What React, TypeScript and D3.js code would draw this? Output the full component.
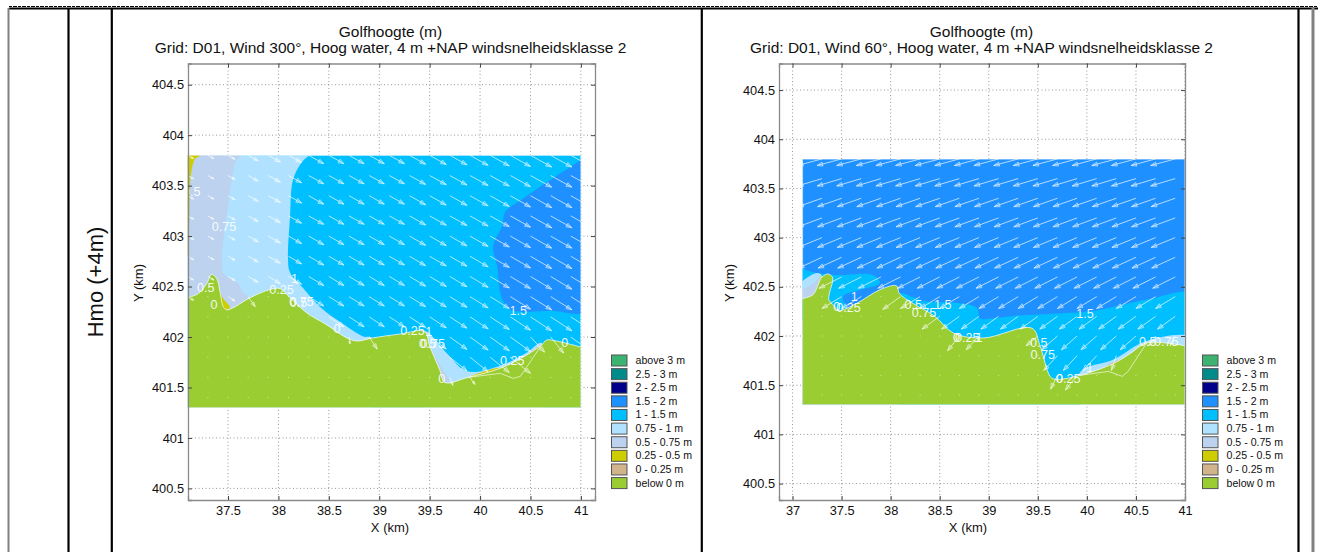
import React, { useEffect, useRef } from 'react';
import * as d3 from 'd3';

type Pt = [number, number];

const FONT = '"Liberation Sans", Arial, sans-serif';

// legend
const legendLabels = ['above 3 m', '2.5 - 3 m', '2 - 2.5 m', '1.5 - 2 m', '1 - 1.5 m', '0.75 - 1 m', '0.5 - 0.75 m', '0.25 - 0.5 m', '0 - 0.25 m', 'below 0 m'];
const legendColors = ['#3CB371', '#008B8B', '#00008B', '#1E90FF', '#00BFFF', '#B0E2FF', '#BCD2EE', '#CDCD00', '#D2B48C', '#9ACD32'];
const [, , , C15, C1, C075, C05, C025, C0, LAND] = legendColors;

const xTickValues = [37.5, 38, 38.5, 39, 39.5, 40, 40.5, 41];
const xTickValuesRight = [37, 37.5, 38, 38.5, 39, 39.5, 40, 40.5, 41];
const yTickValues = [400.5, 401, 401.5, 402, 402.5, 403, 403.5, 404, 404.5];

// vector grid nodes (km)
const gridX = [37.1, 37.3, 37.5, 37.7, 37.9, 38.1, 38.3, 38.5, 38.7, 38.9, 39.1, 39.3, 39.5, 39.7, 39.9, 40.1, 40.3, 40.5, 40.7, 40.9];
const gridY = [403.8, 403.6, 403.4, 403.2, 403.0, 402.8, 402.6, 402.4, 402.2, 402.0, 401.8, 401.6, 401.4];

// left plot: wind 300
const leftShore: Pt[] = [[37.1, 402.39], [37.205, 402.43], [37.289, 402.53], [37.338, 402.62], [37.388, 402.58], [37.42, 402.45], [37.453, 402.3], [37.487, 402.27], [37.55, 402.29], [37.72, 402.39], [37.917, 402.47], [38.016, 402.48], [38.115, 402.39], [38.28, 402.24], [38.48, 402.12], [38.68, 401.99], [38.78, 401.96], [38.93, 401.99], [39.21, 402.03], [39.45, 402.055], [39.5, 401.91], [39.6, 401.675], [39.65, 401.55], [39.88, 401.6], [40.2, 401.69], [40.46, 401.82], [40.61, 401.92], [40.66, 401.97], [40.76, 401.96], [41, 401.9]];
const leftLagoon: Pt[] = [[39.88, 401.6], [40.2, 401.64], [40.33, 401.59], [40.4, 401.61], [40.61, 401.92]];
const leftHigh: Pt[] = [[41.1, 403.78], [40.89, 403.68], [40.66, 403.53], [40.41, 403.36], [40.25, 403.24], [40.22, 403.1], [40.13, 402.9], [40.17, 402.7], [40.2, 402.44], [40.25, 402.32], [40.33, 402.26], [40.7, 402.26], [41.1, 402.27]];
const leftPale: Pt[] = [[38.34, 403.85], [38.23, 403.73], [38.145, 403.56], [38.115, 403.19], [38.095, 402.77], [38.115, 402.64], [38.24, 402.49], [38.41, 402.3], [38.61, 402.15], [38.84, 402.005], [38.93, 401.99], [38.93, 401.3], [37, 401.3], [37, 403.85]];
const leftGrey: Pt[] = [[37.7, 403.85], [37.586, 403.76], [37.55, 403.63], [37.5, 403.29], [37.44, 402.835], [37.44, 402.7], [37.453, 402.63], [37.6, 402.535], [37.65, 402.44], [37.7, 402.4], [37.7, 401.3], [37, 401.3], [37, 403.85]];
const leftStrip: Pt[] = [[37.22, 403.8], [37.17, 403.76], [37.13, 403.59], [37.116, 403.19], [37.1, 402.8], [37.05, 403], [37.1, 403.85]];
const leftSpikeYellow: Pt[] = [[37.394, 402.55], [37.44, 402.4], [37.52, 402.29], [37.453, 402.27], [37.4, 402.3], [37.388, 402.44]];
const leftBayPale: Pt[] = [[39.45, 402.055], [39.67, 401.84], [39.87, 401.66], [40.2, 401.715], [40.47, 401.85], [40.61, 401.94], [40.61, 401.3], [39.45, 401.3]];
const leftBayGrey: Pt[] = [[39.52, 401.87], [39.63, 401.675], [39.7, 401.56], [39.63, 401.55], [39.6, 401.675]];
const leftBayYellow: Pt[] = [[39.89, 401.6], [40.2, 401.69], [40.21, 401.65], [40, 401.61]];
const leftBayTan: Pt[] = [[40.47, 401.82], [40.61, 401.92], [40.58, 401.86], [40.45, 401.79]];

const leftArrowU = [0.06, 0.06, 0.07, 0.1, 0.12, 0.13, 0.15, 0.15, 0.15, 0.15, 0.15, 0.16, 0.165, 0.17, 0.18, 0.19, 0.2, 0.21, 0.21, 0.21];
const leftArrowSlope = [0.55, 0.55, 0.56, 0.56, 0.57, 0.58, 0.6, 0.62, 0.66, 0.72, 0.8, 0.9, 1];
const leftShoreArrows = [[37.7, 402.4, 0.07, 0.1], [38.7, 402, 0.01, 0.07], [38.9, 402, 0.08, 0.12], [39.7, 401.6, 0.03, 0.08], [39.9, 401.6, 0.05, 0.07], [40.5, 402, 0.14, 0.15], [40.7, 402, 0.13, 0.16]];

const leftLabels: [string, number, number][] = [['0.5', 37.14, 403.44], ['0.75', 37.46, 403.09], ['0.5', 37.28, 402.485], ['0', 37.36, 402.32], ['0.25', 38.03, 402.47], ['1', 38.16, 402.58], ['0.5', 38.2, 402.34], ['0.75', 38.23, 402.35], ['0', 38.58, 402.08], ['0.25', 39.33, 402.06], ['1', 39.49, 402.055], ['0.5', 39.48, 401.93], ['0.75', 39.53, 401.93], ['0', 39.62, 401.59], ['0.25', 40.32, 401.765], ['0', 40.84, 401.94], ['1.5', 40.38, 402.26]];

// right plot: wind 60
const rightShore: Pt[] = [[37.1, 402.38], [37.21, 402.42], [37.26, 402.52], [37.3, 402.6], [37.365, 402.63], [37.41, 402.59], [37.38, 402.45], [37.37, 402.37], [37.416, 402.315], [37.47, 402.26], [37.65, 402.33], [37.89, 402.47], [38.06, 402.51], [38.09, 402.43], [38.23, 402.33], [38.45, 402.2], [38.64, 402.03], [38.945, 401.98], [39.44, 402.08], [39.52, 401.91], [39.625, 401.59], [39.675, 401.56], [39.93, 401.6], [40.27, 401.72], [40.44, 401.82], [40.61, 401.93], [41, 401.9]];
const rightLagoon: Pt[] = [[39.93, 401.6], [40.22, 401.64], [40.36, 401.59], [40.42, 401.64], [40.61, 401.93]];
const rightLowA: Pt[] = [[37, 402.7], [37.196, 402.65], [37.41, 402.62], [37.82, 402.62], [37.89, 402.54], [37.69, 402.47], [37.515, 402.4], [37.57, 402.2], [37, 402.2]];
const rightLowB: Pt[] = [[38.09, 402.43], [38.215, 402.4], [38.37, 402.35], [38.69, 402.335], [38.88, 402.285], [38.91, 402.18], [39.04, 402.18], [39.32, 402.21], [39.69, 402.23], [40.1, 402.26], [40.61, 402.37], [41.1, 402.42], [41.1, 401.3], [38.09, 401.3]];
const rightSpikePale: Pt[] = [[37.05, 402.5], [37.25, 402.64], [37.3, 402.61], [37.26, 402.45], [37.05, 402.36]];
const rightSpikeGrey: Pt[] = [[37.05, 402.42], [37.23, 402.55], [37.28, 402.61], [37.26, 402.47], [37.16, 402.39]];
const rightSpikeYellow: Pt[] = [[37.28, 402.57], [37.3, 402.61], [37.31, 402.49], [37.28, 402.45]];
const rightBayPale: Pt[] = [[39.93, 401.63], [40.27, 401.76], [40.61, 401.95], [41.1, 401.97], [41.1, 401.3], [39.93, 401.3]];
const rightBayTan: Pt[] = [[40.15, 401.65], [40.33, 401.75], [40.35, 401.7], [40.18, 401.62]];

const rightArrowU = [-0.25, -0.25, -0.245, -0.245, -0.245, -0.24, -0.23, -0.2, -0.18, -0.16, -0.14, -0.12, -0.1];
const rightArrowV = [0.067, 0.075, 0.085, 0.09, 0.1, 0.11, 0.115, 0.12, 0.13, 0.14, 0.15, 0.15, 0.15];
const rightShoreArrows = [[38.1, 402.4, -0.18, 0.13], [38.7, 402, -0.12, 0.15], [38.9, 402, -0.13, 0.14], [39.5, 402, -0.12, 0.1], [39.7, 401.6, -0.07, 0.14], [40.3, 401.8, -0.05, 0.15], [40.7, 402, -0.07, 0.1], [40.9, 402, -0.05, 0.1]];

const rightLabels: [string, number, number][] = [['0', 37.45, 402.3], ['0.25', 37.57, 402.29], ['1', 37.63, 402.4], ['0.5', 38.23, 402.32], ['0.75', 38.34, 402.24], ['1.5', 38.53, 402.315], ['0', 38.67, 401.98], ['0.25', 38.78, 401.98], ['1', 38.9, 401.98], ['1.5', 39.98, 402.23], ['0.5', 39.51, 401.93], ['0.75', 39.55, 401.81], ['0', 39.72, 401.57], ['0.25', 39.81, 401.57], ['1', 40.03, 401.68], ['0.5', 40.62, 401.94], ['0.75', 40.81, 401.94]];

const dataRect: Pt[] = [[37.1, 403.8], [41, 403.8], [41, 401.3], [37.1, 401.3]];

type PlotProps = {
  id: string;
  title: string;
  titleX: number;
  xLabelX: number;
  xDomain: Pt;
  xRange: Pt;
  yDomain: Pt;
  xTicks: number[];
  base: string;
  layers: [string, Pt[]][];
  shore: Pt[];
  lagoon: Pt[];
  labels: [string, number, number][];
  arrowAt: (col: number, row: number) => Pt;
  shoreArrows: number[][];
  legendX: number;
};

const yRange: Pt = [63.5, 500];

function Plot(p: PlotProps) {
  const axes = useRef<SVGGElement>(null);
  const x = d3.scaleLinear().domain(p.xDomain).range(p.xRange);
  const y = d3.scaleLinear().domain(p.yDomain).range(yRange);
  const line = d3.line<Pt>().x((d) => x(d[0])).y((d) => y(d[1]));
  const zone = d3.line<Pt>().x((d) => x(d[0])).y((d) => y(d[1])).curve(d3.curveCatmullRomClosed.alpha(0.5));
  const shorePath = d3.line<Pt>().x((d) => x(d[0])).y((d) => y(d[1])).curve(d3.curveCatmullRom.alpha(0.5))(p.shore) ?? '';
  const land: Pt[] = [...p.shore, [41, 401.3], [37.1, 401.3]];
  const [fx0, fx1] = p.xRange;

  useEffect(() => {
    const g = d3.select(axes.current);
    g.selectAll('*').remove();
    const fmt = (d: d3.NumberValue) => String(d);
    const none = () => '';
    g.append('g').attr('transform', `translate(0,${yRange[1]})`).call(d3.axisBottom(x).tickValues(p.xTicks).tickSize(-4).tickPadding(6).tickFormat(fmt));
    g.append('g').attr('transform', `translate(0,${yRange[0]})`).call(d3.axisTop(x).tickValues(p.xTicks).tickSize(-4).tickFormat(none));
    g.append('g').attr('transform', `translate(${fx0},0)`).call(d3.axisLeft(y).tickValues(yTickValues).tickSize(-4).tickPadding(4).tickFormat(fmt));
    g.append('g').attr('transform', `translate(${fx1},0)`).call(d3.axisRight(y).tickValues(yTickValues).tickSize(-4).tickFormat(none));
    g.selectAll('.domain').attr('stroke', '#8a8a8a').attr('stroke-width', 1.3);
    g.selectAll('.tick line').attr('stroke', '#444');
    g.selectAll('text').attr('font-family', FONT).attr('font-size', 12.8).attr('fill', '#111');
  }, []);

  const arrows: { t: Pt; d: Pt }[] = [];
  const dots: Pt[] = [];
  gridX.forEach((gx, col) => {
    gridY.forEach((gy, row) => {
      const forced = p.shoreArrows.find((a) => a[0] === gx && a[1] === gy);
      if (forced) arrows.push({ t: [gx, gy], d: [forced[2], forced[3]] });
      else if (d3.polygonContains(land, [gx, gy])) dots.push([gx, gy]);
      else arrows.push({ t: [gx, gy], d: p.arrowAt(col, row) });
    });
  });

  const arrowParts = (a: { t: Pt; d: Pt }) => {
    const x0 = x(a.t[0]);
    const y0 = y(a.t[1]);
    const x1 = x(a.t[0] + a.d[0]);
    const y1 = y(a.t[1] - a.d[1]);
    const ang = Math.atan2(y1 - y0, x1 - x0);
    const len = Math.min(6, Math.hypot(x1 - x0, y1 - y0) * 0.4);
    const bx = (s: number) => x1 - len * Math.cos(ang + s * 0.36);
    const by = (s: number) => y1 - len * Math.sin(ang + s * 0.36);
    return {
      shaft: `M${x0},${y0}L${x1},${y1}`,
      head: `M${bx(1)},${by(1)}L${x1},${y1}L${bx(-1)},${by(-1)}Z`,
    };
  };

  return (
    <g>
      <clipPath id={`${p.id}-clip`}>
        <rect x={x(37.1)} y={y(403.8)} width={x(41) - x(37.1)} height={y(401.3) - y(403.8)} />
      </clipPath>
      <g stroke="#999" strokeWidth={1} strokeDasharray="1 2.5">
        {p.xTicks.map((t) => <line key={t} x1={x(t)} x2={x(t)} y1={yRange[0]} y2={yRange[1]} />)}
        {yTickValues.map((t) => <line key={t} x1={fx0} x2={fx1} y1={y(t)} y2={y(t)} />)}
      </g>
      <g clipPath={`url(#${p.id}-clip)`}>
        <path d={`${line(dataRect)}Z`} fill={p.base} />
        {p.layers.map(([c, pts], i) => <path key={i} d={zone(pts) ?? ''} fill={c} />)}
        <path d={`${shorePath}L${x(41)},${y(401.3)}L${x(37.1)},${y(401.3)}Z`} fill={LAND} />
        <path d={shorePath} fill="none" stroke="#fff" strokeOpacity={0.7} strokeWidth={1} />
        <path d={line(p.lagoon) ?? ''} fill="none" stroke="#fff" strokeOpacity={0.7} strokeWidth={0.9} />
        {dots.map((d, i) => <rect key={i} x={x(d[0]) - 0.5} y={y(d[1]) - 0.5} width={1} height={1} fill="#fff" fillOpacity={0.55} />)}
        {arrows.map((a, i) => {
          const parts = arrowParts(a);
          return (
            <g key={i}>
              <path d={parts.shaft} fill="none" stroke="#fff" strokeOpacity={0.75} strokeWidth={0.9} />
              <path d={parts.head} fill="#fff" fillOpacity={0.2} stroke="#fff" strokeOpacity={0.7} strokeWidth={0.7} />
            </g>
          );
        })}
        <path d={`${line(dataRect)}Z`} fill="none" stroke="#fff" strokeOpacity={0.5} strokeWidth={1.5} />
        {p.labels.map(([t, lx, ly], i) => (
          <text key={i} x={x(lx)} y={y(ly)} dy="0.35em" textAnchor="middle" fontFamily={FONT} fontSize={12.6} fill="#fff" fillOpacity={0.92}>{t}</text>
        ))}
      </g>
      <g ref={axes} />
      <text x={p.titleX} y={37} textAnchor="middle" fontFamily={FONT} fontSize={15.5} fill="#111">Golfhoogte (m)</text>
      <text x={p.titleX} y={53} textAnchor="middle" fontFamily={FONT} fontSize={15.5} fill="#111">{p.title}</text>
      <text x={p.xLabelX} y={532} textAnchor="middle" fontFamily={FONT} fontSize={13} fill="#111">X (km)</text>
      <text transform={`translate(${fx0 - 45.5},283) rotate(-90)`} textAnchor="middle" fontFamily={FONT} fontSize={13} fill="#111">Y (km)</text>
      {legendLabels.map((l, i) => (
        <g key={l} transform={`translate(${p.legendX},${354.5 + i * 13.62})`}>
          <rect x={0.5} y={0.5} width={15.5} height={11} fill={legendColors[i]} stroke="#555" strokeWidth={1} />
          <text x={24.5} y={9.5} fontFamily={FONT} fontSize={10.6} fill="#111">{l}</text>
        </g>
      ))}
    </g>
  );
}

export default function App() {
  return (
    <svg width={1318} height={552} style={{ position: 'absolute', left: 0, top: 0, display: 'block', background: '#fff' }}>
      <line x1={9} x2={1318} y1={6.5} y2={6.5} stroke="#000" strokeWidth={1} strokeDasharray="3 1 4 1" />
      <line x1={9} x2={1318} y1={8.5} y2={8.5} stroke="#000" strokeWidth={2} />
      <line x1={8.5} x2={8.5} y1={8} y2={552} stroke="#808080" strokeWidth={2} />
      <line x1={1313} x2={1313} y1={8} y2={552} stroke="#808080" strokeWidth={3} />
      {[68.5, 111.8, 701.8, 1298.5].map((v) => (
        <line key={v} x1={v} x2={v} y1={8} y2={552} stroke="#000" strokeWidth={2.2} />
      ))}
      <text transform="translate(103,282) rotate(-90)" textAnchor="middle" fontFamily={FONT} fontSize={22} fill="#111">Hmo (+4m)</text>
      <Plot
        id="west"
        title="Grid: D01, Wind 300°, Hoog water, 4 m +NAP windsnelheidsklasse 2"
        titleX={390.5}
        xLabelX={390}
        xDomain={[37.103, 41.14]}
        xRange={[188, 595]}
        yDomain={[404.71, 400.385]}
        xTicks={xTickValues}
        base={C1}
        layers={[[C15, leftHigh], [C075, leftPale], [C05, leftGrey], [C025, leftStrip], [C025, leftSpikeYellow], [C075, leftBayPale], [C05, leftBayGrey], [C025, leftBayYellow], [C0, leftBayTan]]}
        shore={leftShore}
        lagoon={leftLagoon}
        labels={leftLabels}
        arrowAt={(c, r) => [leftArrowU[c], leftArrowU[c] * leftArrowSlope[r]]}
        shoreArrows={leftShoreArrows}
        legendX={611}
      />
      <Plot
        id="east"
        title="Grid: D01, Wind 60°, Hoog water, 4 m +NAP windsnelheidsklasse 2"
        titleX={981.5}
        xLabelX={968}
        xDomain={[36.862, 41]}
        xRange={[779, 1185]}
        yDomain={[404.77, 400.333]}
        xTicks={xTickValuesRight}
        base={C15}
        layers={[[C1, rightLowA], [C1, rightLowB], [C075, rightSpikePale], [C05, rightSpikeGrey], [C025, rightSpikeYellow], [C075, rightBayPale], [C0, rightBayTan]]}
        shore={rightShore}
        lagoon={rightLagoon}
        labels={rightLabels}
        arrowAt={(_c, r) => [rightArrowU[r], rightArrowV[r]]}
        shoreArrows={rightShoreArrows}
        legendX={1202}
      />
    </svg>
  );
}
